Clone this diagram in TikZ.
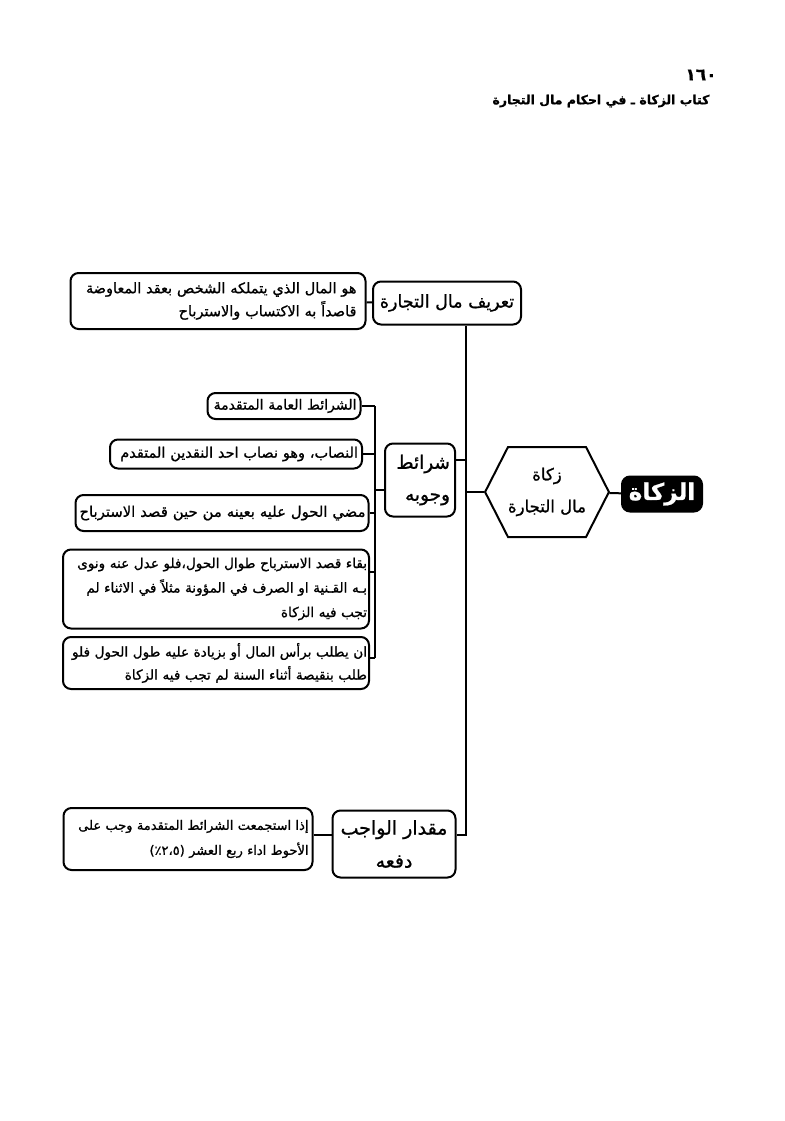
\documentclass[tikz,border=0pt]{standalone}
\usepackage{fontspec}
\usetikzlibrary{shapes.symbols}
\TeXXeTstate=1
\newfontfamily\arabicfont[Script=Arabic,FakeBold=1]{DejaVu Sans}
\newcommand{\ar}[1]{\beginR #1\endR}

\tikzset{
  box/.style={draw, line width=2pt, rounded corners=8pt, inner sep=0pt, align=right,
    font=\arabicfont\fontsize{14}{24}\selectfont},
  head/.style={box, align=center, font=\arabicfont\fontsize{18.5}{32}\selectfont},
  link/.style={line width=2pt},
}

\begin{document}
\begin{tikzpicture}[x=1pt, y=-1pt]
	\useasboundingbox (0,0) rectangle (784,1121);
	% page header
	\node (page) at (701,75) {\arabicfont\bfseries\fontsize{17}{17}\selectfont\ar{١٦٠}};
	\node[anchor=east] (book) at (713,101) {\arabicfont\bfseries\fontsize{12.5}{12.5}\selectfont\ar{كتاب الزكاة ـ في احكام مال التجارة}};
	% main nodes
	\node[box, fill=black, text=white, align=center, minimum width=80, minimum height=35,
		font=\arabicfont\bfseries\fontsize{23}{23}\selectfont] (zakat) at (662,494) {\ar{الزكاة}};
	\node[draw, line width=2pt, signal, signal to=west and east, signal pointer angle=126,
		minimum width=119, minimum height=90, inner sep=0pt, align=center,
		font=\arabicfont\fontsize{16.5}{32}\selectfont] (hex) at (547,492) {\ar{زكاة}\\\ar{مال التجارة}};
	\node[head, minimum width=148, minimum height=43, font=\arabicfont\fontsize{17.5}{20}\selectfont] (tarif) at (447,303)
		{\ar{تعريف مال التجارة}};
	\node[box, minimum width=295, minimum height=56, text width=277pt, font=\arabicfont\fontsize{14.5}{23}\selectfont] (def) at (218,301)
		{\ar{هو المال الذي يتملكه الشخص بعقد المعاوضة}\\\ar{قاصداً به الاكتساب والاسترباح}};
	\node[head, align=right, minimum width=70, minimum height=73, text width=60pt] (shurut) at (420,480)
		{\ar{شرائط}\\\ar{وجوبه}};
	\node[head, minimum width=123, minimum height=67, font=\arabicfont\fontsize{19}{33}\selectfont] (madar) at (394,844)
		{\ar{مقدار الواجب}\\\ar{دفعه}};
	\node[box, minimum width=249, minimum height=62, text width=241pt, font=\arabicfont\fontsize{13}{25}\selectfont] (wajib) at (188,839)
		{\ar{إذا استجمعت الشرائط المتقدمة وجب على}\\\ar{الأحوط اداء ربع العشر (٢،٥٪)}};
	% conditions
	\node[box, minimum width=153, minimum height=26, text width=145pt] (s1) at (284,406)
		{\ar{الشرائط العامة المتقدمة}};
	\node[box, minimum width=252, minimum height=29, text width=244pt, font=\arabicfont\fontsize{14.5}{24}\selectfont] (s2) at (236,454)
		{\ar{النصاب، وهو نصاب احد النقدين المتقدم}};
	\node[box, minimum width=293, minimum height=36, text width=287pt, font=\arabicfont\fontsize{14.8}{24}\selectfont] (s3) at (222,513)
		{\ar{مضي الحول عليه بعينه من حين قصد الاسترباح}};
	\node[box, minimum width=306, minimum height=79, text width=302pt, font=\arabicfont\fontsize{13.6}{24.5}\selectfont] (s4) at (216,589)
		{\ar{بقاء قصد الاسترباح طوال الحول،فلو عدل عنه ونوى}\\\ar{بـه القـنية او الصرف في المؤونة مثلاً في الاثناء لم}\\\ar{تجب فيه الزكاة}};
	\node[box, minimum width=306, minimum height=52, text width=302pt, font=\arabicfont\fontsize{13.6}{23}\selectfont] (s5) at (216,663)
		{\ar{ان يطلب برأس المال أو بزيادة عليه طول الحول فلو}\\\ar{طلب بنقيصة أثناء السنة لم تجب فيه الزكاة}};
	% connectors
	\coordinate (m) at (466,835);
	\coordinate (sj) at (466,460);
	\coordinate (b1) at (375,406);
	\coordinate (bs) at (375,490);
	\coordinate (b4) at (375,572);
	\coordinate (b5) at (375,658);
	\draw[link] (def) -- (tarif);
	\draw[link] (tarif.south -| m) -- (m) -- (m -| madar.east);
	\draw[link] (m -| wajib.east) -- (m -| madar.west);
	\draw[link] (hex) -- (zakat);
	\draw[link] (hex.west) -- (hex.west -| m);
	\draw[link] (sj) -- (sj -| shurut.east);
	\draw[link] (bs) -- (bs -| shurut.west);
	\draw[link] (b1) -- (b5);
	\foreach \s in {s1,s2,s3}
		\draw[link] (\s.east) -- (\s.east -| b1);
	\draw[link] (b4) -- (b4 -| s4.east);
	\draw[link] (b5) -- (b5 -| s5.east);
\end{tikzpicture}
\end{document}
